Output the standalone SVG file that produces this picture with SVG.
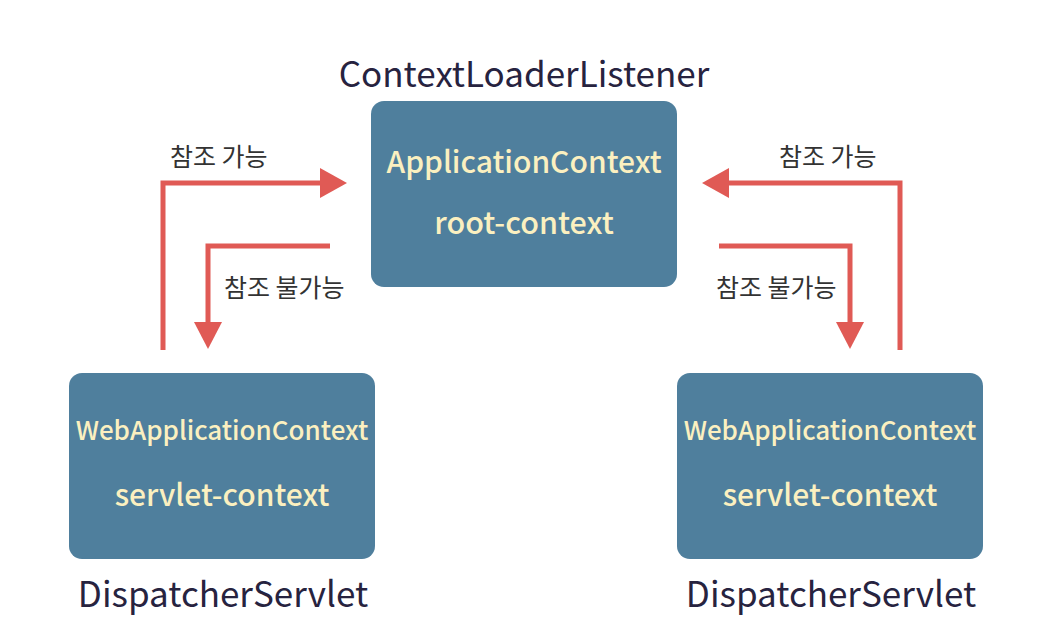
<svg xmlns="http://www.w3.org/2000/svg" width="1044" height="642" viewBox="0 0 1044 642">
<style>
.box{fill:#4f7f9d}
.in{font-family:"Noto Sans CJK KR","Noto Sans",sans-serif;font-weight:500;fill:#fbf0c0;text-anchor:middle}
.title{font-family:"Noto Sans CJK KR","Noto Sans",sans-serif;font-weight:400;fill:#27233f;text-anchor:middle;font-size:35px}
.lbl{font-family:"Noto Sans CJK KR","Noto Sans",sans-serif;fill:#333;font-size:25px}
.ln{fill:none;stroke:#e05a55;stroke-width:5}
.ah{fill:#e05a55}
</style>
<rect width="1044" height="642" fill="#fff"/>
<g id="root">
<text class="title" x="524" y="87">ContextLoaderListener</text>
<rect class="box" x="371" y="101" width="306" height="186" rx="13"/>
<text class="in" x="524" y="173" font-size="30">ApplicationContext</text>
<text class="in" x="524" y="234" font-size="30.5">root-context</text>
</g>
<g id="servlet-left">
<rect class="box" x="69" y="373" width="306" height="186" rx="13"/>
<text class="in" x="222" y="440" font-size="26">WebApplicationContext</text>
<text class="in" x="222" y="506" font-size="30">servlet-context</text>
<text class="title" x="223" y="607">DispatcherServlet</text>
</g>
<g id="servlet-right">
<rect class="box" x="677" y="373" width="306" height="186" rx="13"/>
<text class="in" x="830" y="440" font-size="26">WebApplicationContext</text>
<text class="in" x="830" y="506" font-size="30">servlet-context</text>
<text class="title" x="831" y="607">DispatcherServlet</text>
</g>
<g id="connectors">
<polyline class="ln" points="163,350 163,183 322,183"/>
<polygon class="ah" points="320,168 347,183 320,198"/>
<polyline class="ln" points="330,246 208,246 208,325"/>
<polygon class="ah" points="194,322 208,349 222,322"/>
<polyline class="ln" points="900,350 900,183 728,183"/>
<polygon class="ah" points="729,168 702,183 729,198"/>
<polyline class="ln" points="719,246 850,246 850,325"/>
<polygon class="ah" points="836,322 850,349 864,322"/>
<text class="lbl" x="170" y="166">참조 가능</text>
<text class="lbl" x="224" y="297">참조 불가능</text>
<text class="lbl" x="779" y="166">참조 가능</text>
<text class="lbl" x="716" y="297">참조 불가능</text>
</g>
</svg>
